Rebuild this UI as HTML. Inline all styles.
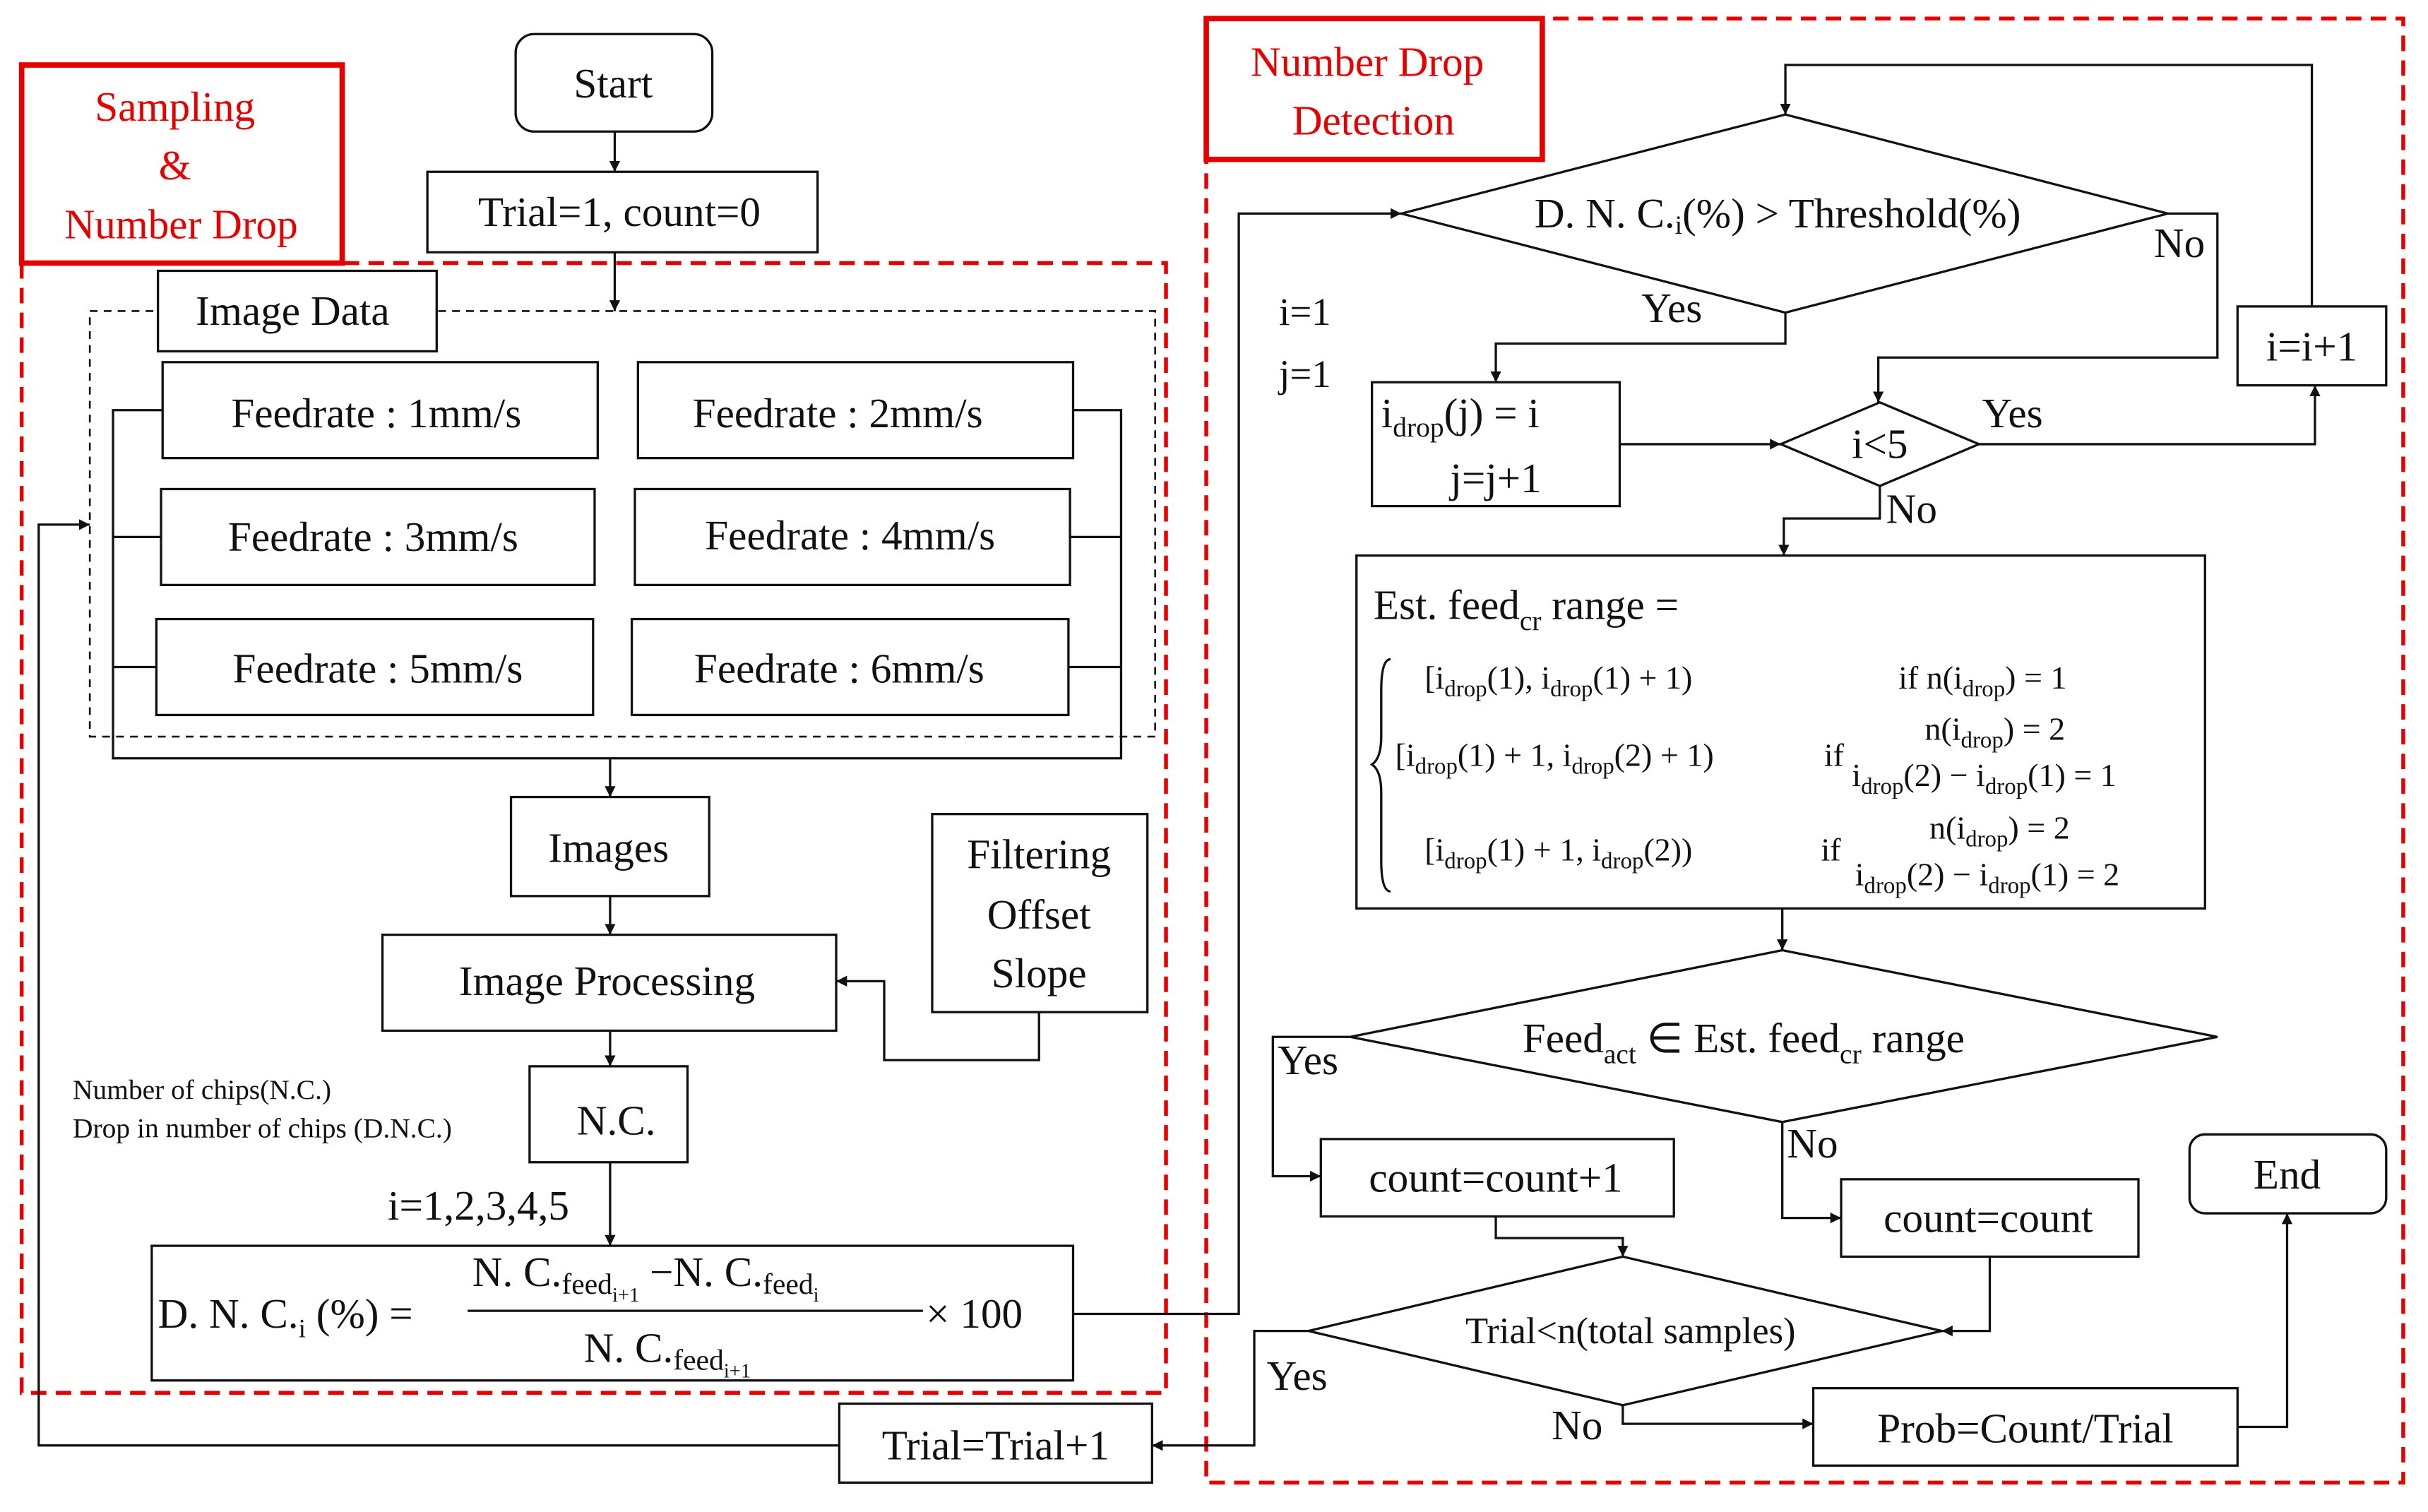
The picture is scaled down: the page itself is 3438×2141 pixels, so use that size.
<!DOCTYPE html>
<html><head><meta charset="utf-8"><style>
html,body{margin:0;padding:0;background:#fff;}
svg{display:block;}
text{font-family:"Liberation Serif",serif;fill:#111;}
.r{fill:#e60000;}
</style></head><body>
<svg width="3438" height="2141" viewBox="0 0 1568 977" preserveAspectRatio="none" xmlns="http://www.w3.org/2000/svg">
<defs>
<marker id="a" viewBox="0 0 10 10" refX="10" refY="5" markerWidth="7" markerHeight="7" orient="auto" markerUnits="userSpaceOnUse"><path d="M0,0 L10,5 L0,10 z" fill="#111"/></marker>
</defs>
<g fill="none" stroke="#111" stroke-width="1.5">
<rect x="14" y="170" width="739" height="730" stroke="#e60000" stroke-width="2.5" stroke-dasharray="10,6"/>
<rect x="779" y="12" width="773" height="946" stroke="#e60000" stroke-width="2.5" stroke-dasharray="10,6"/>
<rect x="14" y="42" width="207" height="128" stroke="#e60000" stroke-width="3.5" fill="#fff"/>
<rect x="779" y="12" width="217" height="91" stroke="#e60000" stroke-width="3.5" fill="#fff"/>
<rect x="333" y="22" width="127" height="63" rx="12"/>
<rect x="276" y="111" width="252" height="52"/>
<path d="M397,85 V111" marker-end="url(#a)"/>
<path d="M397,163 V201" marker-end="url(#a)"/>
<rect x="58" y="201" width="688" height="275" stroke-dasharray="5,4" stroke-width="1.2"/>
<rect x="102" y="175" width="180" height="52" fill="#fff"/>
<rect x="105" y="234" width="281" height="62"/>
<rect x="412" y="234" width="281" height="62"/>
<rect x="104" y="316" width="280" height="62"/>
<rect x="410" y="316" width="281" height="62"/>
<rect x="101" y="400" width="282" height="62"/>
<rect x="408" y="400" width="282" height="62"/>
<path d="M105,265 H73 V490 H724 V265 H693 M73,347 H104 M73,431 H101 M691,347 H724 M690,431 H724"/>
<path d="M394,490 V515" marker-end="url(#a)"/>
<rect x="330" y="515" width="128" height="64"/>
<path d="M394,579 V604" marker-end="url(#a)"/>
<rect x="247" y="604" width="293" height="62"/>
<rect x="602" y="526" width="139" height="128"/>
<path d="M671,654 V685 H571 V634 H540" marker-end="url(#a)"/>
<path d="M394,666 V689" marker-end="url(#a)"/>
<rect x="342" y="689" width="102" height="62"/>
<path d="M394,751 V805" marker-end="url(#a)"/>
<rect x="98" y="805" width="595" height="87"/>
<path d="M693,849 H800 V138 H905" marker-end="url(#a)"/>
<rect x="542" y="907" width="202" height="51"/>
<path d="M542,934 H25 V339 H58" marker-end="url(#a)"/>
<path d="M845,860 H810 V934 H744" marker-end="url(#a)"/>
<polygon points="905,138 1153,74 1400,138 1153,202"/>
<rect x="1445" y="198" width="96" height="51"/>
<path d="M1493,198 V42 H1153 V74" marker-end="url(#a)"/>
<path d="M1400,138 H1432 V231 H1213 V260" marker-end="url(#a)"/>
<path d="M1153,202 V222 H966 V247" marker-end="url(#a)"/>
<rect x="886" y="247" width="160" height="80"/>
<path d="M1046,287 H1150" marker-end="url(#a)"/>
<polygon points="1150,287 1214,260 1278,287 1214,314"/>
<path d="M1278,287 H1495 V249" marker-end="url(#a)"/>
<path d="M1214,314 V335 H1152 V359" marker-end="url(#a)"/>
<rect x="876" y="359" width="548" height="228"/>
<path d="M1151,587 V614" marker-end="url(#a)"/>
<polygon points="872,670 1151,614 1432,670 1151,725"/>
<path d="M872,670 H822 V760 H853" marker-end="url(#a)"/>
<path d="M1151,725 V787 H1189" marker-end="url(#a)"/>
<rect x="853" y="736" width="228" height="50"/>
<rect x="1189" y="762" width="192" height="50"/>
<path d="M966,786 V800 H1048 V812" marker-end="url(#a)"/>
<polygon points="845,860 1048,812 1254,860 1048,908"/>
<path d="M1285,812 V860 H1254" marker-end="url(#a)"/>
<path d="M1048,908 V920 H1171" marker-end="url(#a)"/>
<rect x="1171" y="897" width="274" height="50"/>
<path d="M1445,922 H1477 V784" marker-end="url(#a)"/>
<rect x="1414" y="733" width="127" height="51" rx="10"/>
<line x1="302" y1="847" x2="596" y2="847"/>
<path d="M898,426 q-6,0 -6,20 v30 q0,14 -6,18 q6,4 6,18 v44 q0,20 6,20"/>
</g>
<g font-size="27">
<text class="r" x="113" y="78" text-anchor="middle">Sampling</text>
<text class="r" x="113" y="116" text-anchor="middle">&amp;</text>
<text class="r" x="117" y="154" text-anchor="middle">Number Drop</text>
<text class="r" x="883" y="49" text-anchor="middle">Number Drop</text>
<text class="r" x="887" y="87" text-anchor="middle">Detection</text>
<text x="396" y="63" text-anchor="middle">Start</text>
<text x="400" y="146" text-anchor="middle">Trial=1, count=0</text>
<text x="189" y="210" text-anchor="middle">Image Data</text>
<text x="243" y="276" text-anchor="middle">Feedrate : 1mm/s</text>
<text x="541" y="276" text-anchor="middle">Feedrate : 2mm/s</text>
<text x="241" y="356" text-anchor="middle">Feedrate : 3mm/s</text>
<text x="549" y="355" text-anchor="middle">Feedrate : 4mm/s</text>
<text x="244" y="441" text-anchor="middle">Feedrate : 5mm/s</text>
<text x="542" y="441" text-anchor="middle">Feedrate : 6mm/s</text>
<text x="393" y="557" text-anchor="middle">Images</text>
<text x="392" y="643" text-anchor="middle">Image Processing</text>
<text x="671" y="561" text-anchor="middle">Filtering</text>
<text x="671" y="600" text-anchor="middle">Offset</text>
<text x="671" y="638" text-anchor="middle">Slope</text>
<text x="398" y="733" text-anchor="middle">N.C.</text>
<text x="309" y="788" text-anchor="middle">i=1,2,3,4,5</text>
<text x="643" y="943" text-anchor="middle">Trial=Trial+1</text>
<text x="1148" y="147" text-anchor="middle">D. N. C.<tspan font-size="17" dy="4">i</tspan><tspan dy="-4">(%) &gt; Threshold(%)</tspan></text>
<text x="1391" y="166">No</text>
<text x="1060" y="208">Yes</text>
<text x="826" y="210" font-size="25">i=1</text>
<text x="826" y="250" font-size="25">j=1</text>
<text x="1493" y="233" text-anchor="middle">i=i+1</text>
<text x="892" y="276">i<tspan font-size="18" dy="6">drop</tspan><tspan dy="-6">(j) = i</tspan></text>
<text x="966" y="318" text-anchor="middle">j=j+1</text>
<text x="1214" y="296" text-anchor="middle">i&lt;5</text>
<text x="1280" y="276">Yes</text>
<text x="1218" y="338">No</text>
<text x="887" y="400">Est. feed<tspan font-size="18" dy="7">cr</tspan><tspan dy="-7"> range =</tspan></text>
<text x="1126" y="680" text-anchor="middle">Feed<tspan font-size="18" dy="7">act</tspan><tspan dy="-7"> ∈ Est. feed</tspan><tspan font-size="18" dy="7">cr</tspan><tspan dy="-7"> range</tspan></text>
<text x="825" y="694">Yes</text>
<text x="1154" y="748">No</text>
<text x="966" y="770" text-anchor="middle">count=count+1</text>
<text x="1284" y="796" text-anchor="middle">count=count</text>
<text x="1053" y="868" text-anchor="middle" font-size="24">Trial&lt;n(total samples)</text>
<text x="818" y="898">Yes</text>
<text x="1002" y="930">No</text>
<text x="1308" y="932" text-anchor="middle">Prob=Count/Trial</text>
<text x="1477" y="768" text-anchor="middle">End</text>
<text x="102" y="858">D. N. C.<tspan font-size="17" dy="6">i</tspan><tspan dy="-6"> (%) =</tspan></text>
<text x="305" y="831">N. C.<tspan font-size="19" dy="5">feed</tspan><tspan font-size="13" dy="5">i+1</tspan><tspan dy="-10"> −N. C.</tspan><tspan font-size="19" dy="5">feed</tspan><tspan font-size="13" dy="5">i</tspan></text>
<text x="377" y="880">N. C.<tspan font-size="19" dy="5">feed</tspan><tspan font-size="13" dy="5">i+1</tspan></text>
<text x="598" y="858">× 100</text>
</g>
<g font-size="21">
<text x="47" y="710" font-size="18">Number of chips(N.C.)</text>
<text x="47" y="735" font-size="18">Drop in number of chips (D.N.C.)</text>
<text x="920" y="445">[i<tspan font-size="15" dy="5">drop</tspan><tspan dy="-5">(1), i</tspan><tspan font-size="15" dy="5">drop</tspan><tspan dy="-5">(1) + 1)</tspan></text>
<text x="1226" y="445">if n(i<tspan font-size="15" dy="5">drop</tspan><tspan dy="-5">) = 1</tspan></text>
<text x="901" y="495">[i<tspan font-size="15" dy="5">drop</tspan><tspan dy="-5">(1) + 1, i</tspan><tspan font-size="15" dy="5">drop</tspan><tspan dy="-5">(2) + 1)</tspan></text>
<text x="1178" y="495">if</text>
<text x="1243" y="478">n(i<tspan font-size="15" dy="5">drop</tspan><tspan dy="-5">) = 2</tspan></text>
<text x="1196" y="508">i<tspan font-size="15" dy="5">drop</tspan><tspan dy="-5">(2) − i</tspan><tspan font-size="15" dy="5">drop</tspan><tspan dy="-5">(1) = 1</tspan></text>
<text x="920" y="556">[i<tspan font-size="15" dy="5">drop</tspan><tspan dy="-5">(1) + 1, i</tspan><tspan font-size="15" dy="5">drop</tspan><tspan dy="-5">(2))</tspan></text>
<text x="1176" y="556">if</text>
<text x="1246" y="542">n(i<tspan font-size="15" dy="5">drop</tspan><tspan dy="-5">) = 2</tspan></text>
<text x="1198" y="572">i<tspan font-size="15" dy="5">drop</tspan><tspan dy="-5">(2) − i</tspan><tspan font-size="15" dy="5">drop</tspan><tspan dy="-5">(1) = 2</tspan></text>
</g>
</svg>
</body></html>
